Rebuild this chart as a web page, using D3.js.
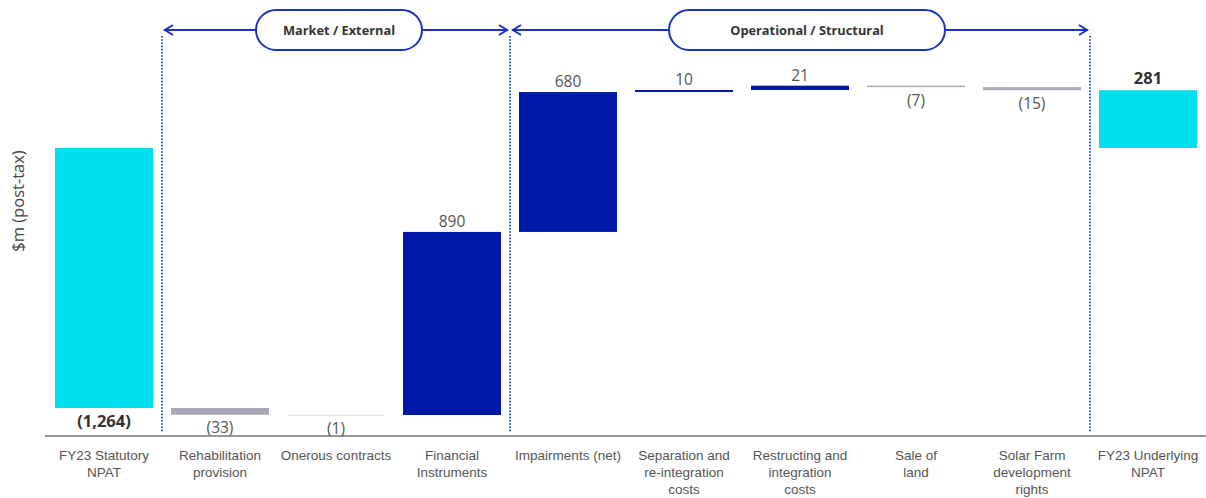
<!DOCTYPE html>
<html><head><meta charset="utf-8">
<script src="https://cdn.jsdelivr.net/npm/d3@7"></script>
<style>body{margin:0;background:#fff}svg{display:block;font-family:"Open Sans",sans-serif}</style>
</head><body><svg id="c" width="1206" height="498"></svg>
<script>
const categories = [
  ["FY23 Statutory","NPAT"],["Rehabilitation","provision"],["Onerous contracts"],
  ["Financial","Instruments"],["Impairments (net)"],["Separation and","re-integration","costs"],
  ["Restructing and","integration","costs"],["Sale of","land"],
  ["Solar Farm","development","rights"],["FY23 Underlying","NPAT"]
];
const values = [-1264, -33, -1, 890, 680, 10, 21, -7, -15, 281];
const kinds = ["total","delta","delta","delta","delta","delta","delta","delta","delta","total"];
const valueLabels = ["(1,264)","(33)","(1)","890","680","10","21","(7)","(15)","281"];
const groupLabels = ["Market / External","Operational / Structural"];
const groupStart = [1, 4];
const groupEnd = [3, 8];

const svg = d3.select("#c");
const blue = "#1a33c4";
const colors = {total:"#00dfee", pos:"#0019a8", neg:"#a9a9b9"};

let run = 0;
const bars = values.map((v,i)=>{
  let y0, y1;
  if (kinds[i]==="total") { y0 = 0; y1 = (i===0) ? v : run; run = y1; }
  else { y0 = run; y1 = run + v; run = y1; }
  return {i, v, y0, y1, kind:kinds[i], label:valueLabels[i]};
});

const x = d3.scaleBand().domain(d3.range(categories.length)).range([46,1206]).paddingInner(0.155).paddingOuter(0.0775);
const y = d3.scaleLinear().domain([-1298, 0]).range([415, 148]);

const axis = svg.append("g").attr("transform","translate(0,436)")
  .call(d3.axisBottom(x).tickSize(0).tickFormat(""));
axis.select(".domain").attr("stroke","#999").attr("stroke-width",2).attr("d","M45,0H1206");
axis.selectAll(".tick text").remove();
axis.selectAll(".tick").append("text")
  .attr("fill","#555").attr("font-size",13.5).attr("text-anchor","middle")
  .selectAll("tspan").data(i=>categories[i].map((t,k)=>({t,k}))).join("tspan")
  .attr("x",0).attr("y",d=>24+d.k*17).text(d=>d.t);

svg.append("g").selectAll("rect").data(bars).join("rect")
  .attr("x",d=>x(d.i)).attr("width",x.bandwidth())
  .attr("y",d=>Math.min(y(d.y0),y(d.y1)))
  .attr("height",d=>Math.max(1,Math.abs(y(d.y0)-y(d.y1))))
  .attr("fill",d=>d.kind==="total"?colors.total:(d.v>=0?colors.pos:colors.neg))
  .attr("opacity",d=>Math.abs(y(d.y0)-y(d.y1))<1?0.35:1);

svg.append("g").selectAll("text").data(bars).join("text")
  .attr("x",d=>x(d.i)+x.bandwidth()/2)
  .attr("y",d=>{
    const top = Math.min(y(d.y0),y(d.y1)), bot = Math.max(y(d.y0),y(d.y1));
    if (d.kind==="total") return d.v>=0 ? top-6 : bot+19;
    return d.v>=0 ? top-5 : bot+18.5;
  })
  .attr("text-anchor","middle")
  .attr("font-size",d=>d.kind==="total"?16.5:15.5)
  .attr("font-weight",d=>d.kind==="total"?700:400)
  .attr("fill",d=>d.kind==="total"?"#333":"#555")
  .text(d=>d.label);

svg.append("text").attr("transform","translate(24,201) rotate(-90)")
  .attr("text-anchor","middle").attr("font-size",16.5).attr("fill","#444").text("$m (post-tax)");

const step = x.step();
const sepX = i => x(i) - (step - x.bandwidth())/2;
const seps = Array.from(new Set([...groupStart.map(s=>sepX(s)), ...groupEnd.map(e=>sepX(e+1))]));
svg.append("g").selectAll("line").data(seps).join("line")
  .attr("x1",d=>d).attr("x2",d=>d).attr("y1",36).attr("y2",432)
  .attr("stroke","#1a3fd6").attr("stroke-width",1.8).attr("stroke-dasharray","1.6,1.6");

const pillW = [166, 276];
const g = svg.append("g");
groupLabels.forEach((lab,k)=>{
  const xa = sepX(groupStart[k]) + 2, xb = sepX(groupEnd[k]+1) - 2;
  const ay = 30;
  g.append("line").attr("x1",xa).attr("x2",xb).attr("y1",ay).attr("y2",ay).attr("stroke",blue).attr("stroke-width",2);
  g.append("path").attr("d",`M${xa+9},${ay-5}L${xa+1},${ay}L${xa+9},${ay+5}`).attr("fill","none").attr("stroke",blue).attr("stroke-width",2);
  g.append("path").attr("d",`M${xb-9},${ay-5}L${xb-1},${ay}L${xb-9},${ay+5}`).attr("fill","none").attr("stroke",blue).attr("stroke-width",2);
  const cx = (xa+xb)/2 + (k===0?3:7);
  g.append("rect").attr("x",cx-pillW[k]/2).attr("y",10).attr("width",pillW[k]).attr("height",40).attr("rx",20)
    .attr("fill","#fff").attr("stroke",blue).attr("stroke-width",2);
  g.append("text").attr("x",cx).attr("y",35).attr("text-anchor","middle").attr("font-size",12.8)
    .attr("font-weight",700).attr("fill","#333").text(lab);
});
</script></body></html>
